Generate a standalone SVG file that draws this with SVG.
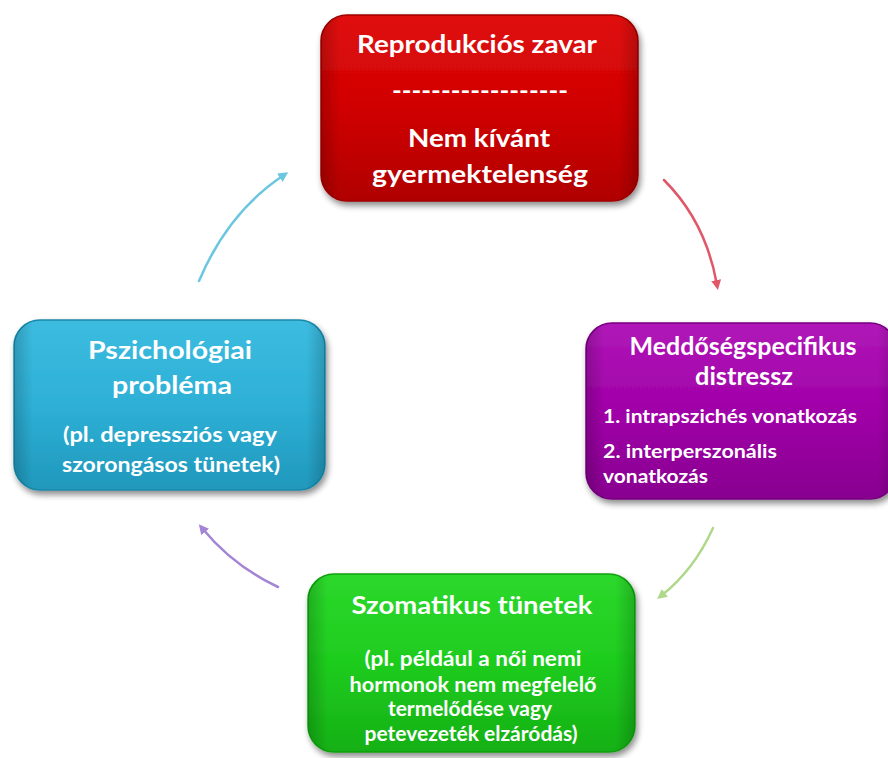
<svg xmlns="http://www.w3.org/2000/svg" width="888" height="758" viewBox="0 0 888 758">
<defs>
  <filter id="shadow" x="-10%" y="-10%" width="125%" height="130%">
    <feGaussianBlur in="SourceAlpha" stdDeviation="3"/>
    <feOffset dx="2" dy="4" result="b"/>
    <feComponentTransfer><feFuncA type="linear" slope="0.45"/></feComponentTransfer>
    <feMerge><feMergeNode/><feMergeNode in="SourceGraphic"/></feMerge>
  </filter>
  <filter id="soft" x="-20%" y="-20%" width="140%" height="140%">
    <feGaussianBlur stdDeviation="0.7"/>
  </filter>
  <filter id="glow" x="-200%" y="-10%" width="500%" height="120%">
    <feGaussianBlur stdDeviation="1.5"/>
  </filter>
  <linearGradient id="gRed" x1="0" y1="0" x2="0" y2="1">
    <stop offset="0" stop-color="#e01010"/>
    <stop offset="0.5" stop-color="#d00000"/>
    <stop offset="1" stop-color="#b00000"/>
  </linearGradient>
  <linearGradient id="gPurple" x1="0" y1="0" x2="0" y2="1">
    <stop offset="0" stop-color="#b018b8"/>
    <stop offset="0.5" stop-color="#a000a8"/>
    <stop offset="1" stop-color="#880090"/>
  </linearGradient>
  <linearGradient id="gBlue" x1="0" y1="0" x2="0" y2="1">
    <stop offset="0" stop-color="#3cbce0"/>
    <stop offset="0.5" stop-color="#2eb0d6"/>
    <stop offset="1" stop-color="#2098bc"/>
  </linearGradient>
  <linearGradient id="gGreen" x1="0" y1="0" x2="0" y2="1">
    <stop offset="0" stop-color="#2cd82c"/>
    <stop offset="0.5" stop-color="#1ecc1e"/>
    <stop offset="1" stop-color="#16b016"/>
  </linearGradient>
  <linearGradient id="edgeShade" x1="0" y1="0" x2="1" y2="0">
    <stop offset="0" stop-color="#000" stop-opacity="0.18"/>
    <stop offset="0.06" stop-color="#000" stop-opacity="0"/>
    <stop offset="0.94" stop-color="#000" stop-opacity="0"/>
    <stop offset="1" stop-color="#000" stop-opacity="0.18"/>
  </linearGradient>
  <marker id="mCyan" viewBox="0 0 10 10" refX="5" refY="5" markerWidth="4" markerHeight="4" orient="auto" markerUnits="strokeWidth">
    <path d="M0,0 L10,5 L0,10 z" fill="#6cc6e0"/>
  </marker>
  <marker id="mRed" viewBox="0 0 10 10" refX="5" refY="5" markerWidth="4" markerHeight="4" orient="auto" markerUnits="strokeWidth">
    <path d="M0,0 L10,5 L0,10 z" fill="#e05868"/>
  </marker>
  <marker id="mGreen" viewBox="0 0 10 10" refX="5" refY="5" markerWidth="4" markerHeight="4" orient="auto" markerUnits="strokeWidth">
    <path d="M0,0 L10,5 L0,10 z" fill="#b0d88a"/>
  </marker>
  <marker id="mPurple" viewBox="0 0 10 10" refX="5" refY="5" markerWidth="4" markerHeight="4" orient="auto" markerUnits="strokeWidth">
    <path d="M0,0 L10,5 L0,10 z" fill="#a484d4"/>
  </marker>
</defs>
<style>
  text { font-family: Lato, "Open Sans", "Liberation Sans", sans-serif; font-weight: bold; fill: #ffffff; }
  .h { font-size: 24px; }
  .b { font-size: 20px; }
  .s { font-size: 18px; }
  .c { text-anchor: middle; }
  .box { stroke-width: 1.5; }
  .hl { fill: none; stroke: #ffffff; stroke-opacity: 0.45; stroke-width: 3; stroke-linecap: round; filter: url(#glow); }
  .arrow { fill: none; stroke-width: 2.5; stroke-linecap: round; filter: url(#soft); }
</style>

<g id="connectors">
  <path class="arrow" d="M199,281 Q228,212 284,175" stroke="#6cc6e0" marker-end="url(#mCyan)"/>
  <path class="arrow" d="M664,180 Q706,222 717,285" stroke="#e05868" marker-end="url(#mRed)"/>
  <path class="arrow" d="M713,528 Q694,570 661,596" stroke="#b0d88a" marker-end="url(#mGreen)"/>
  <path class="arrow" d="M278,587 Q233,566 202,528" stroke="#a484d4" marker-end="url(#mPurple)"/>
</g>

<g id="node-reproduction">
  <rect class="box" x="321" y="15" width="317" height="186" rx="26" fill="url(#gRed)" stroke="#a00000" filter="url(#shadow)"/>
  <rect x="321" y="15" width="317" height="186" rx="26" fill="url(#edgeShade)"/>
  <path class="hl" d="M330,45 L330,172"/>
  <text class="h c" x="477" y="53" textLength="240" lengthAdjust="spacingAndGlyphs">Reprodukciós zavar</text>
  <text class="h c" x="480" y="99" textLength="176" lengthAdjust="spacingAndGlyphs">------------------</text>
  <text class="h c" x="479" y="147" textLength="142" lengthAdjust="spacingAndGlyphs">Nem kívánt</text>
  <text class="h c" x="480" y="183" textLength="216" lengthAdjust="spacingAndGlyphs">gyermektelenség</text>
</g>

<g id="node-distress">
  <rect class="box" x="586" y="323" width="310" height="176" rx="26" fill="url(#gPurple)" stroke="#780080" filter="url(#shadow)"/>
  <rect x="586" y="323" width="310" height="176" rx="26" fill="url(#edgeShade)"/>
  <path class="hl" d="M595,352 L595,472"/>
  <text class="h c" x="743" y="355" textLength="227" lengthAdjust="spacingAndGlyphs">Meddőségspecifikus</text>
  <text class="h c" x="744" y="385" textLength="98" lengthAdjust="spacingAndGlyphs">distressz</text>
  <text class="s" x="603" y="423" textLength="254" lengthAdjust="spacingAndGlyphs">1. intrapszichés vonatkozás</text>
  <text class="s" x="603" y="458" textLength="174" lengthAdjust="spacingAndGlyphs">2. interperszonális</text>
  <text class="s" x="603" y="483" textLength="105" lengthAdjust="spacingAndGlyphs">vonatkozás</text>
</g>

<g id="node-somatic">
  <rect class="box" x="308" y="574" width="327" height="178" rx="26" fill="url(#gGreen)" stroke="#10a010" filter="url(#shadow)"/>
  <rect x="308" y="574" width="327" height="178" rx="26" fill="url(#edgeShade)"/>
  <path class="hl" d="M317,603 L317,724"/>
  <text class="h c" x="472" y="614" textLength="241" lengthAdjust="spacingAndGlyphs">Szomatikus tünetek</text>
  <text class="b c" x="473" y="666" textLength="217" lengthAdjust="spacingAndGlyphs">(pl. például a női nemi</text>
  <text class="b c" x="473" y="692" textLength="247" lengthAdjust="spacingAndGlyphs">hormonok nem megfelelő</text>
  <text class="b c" x="470" y="716" textLength="164" lengthAdjust="spacingAndGlyphs">termelődése vagy</text>
  <text class="b c" x="471" y="741" textLength="213" lengthAdjust="spacingAndGlyphs">petevezeték elzáródás)</text>
</g>

<g id="node-psych">
  <rect class="box" x="14" y="320" width="311" height="170" rx="26" fill="url(#gBlue)" stroke="#1888a8" filter="url(#shadow)"/>
  <rect x="14" y="320" width="311" height="170" rx="26" fill="url(#edgeShade)"/>
  <path class="hl" d="M23,349 L23,462"/>
  <text class="h c" x="170" y="359" textLength="164" lengthAdjust="spacingAndGlyphs">Pszichológiai</text>
  <text class="h c" x="172" y="394" textLength="120" lengthAdjust="spacingAndGlyphs">probléma</text>
  <text class="b c" x="170" y="442" textLength="214" lengthAdjust="spacingAndGlyphs">(pl. depressziós vagy</text>
  <text class="b c" x="171" y="472" textLength="218" lengthAdjust="spacingAndGlyphs">szorongásos tünetek)</text>
</g>
</svg>
